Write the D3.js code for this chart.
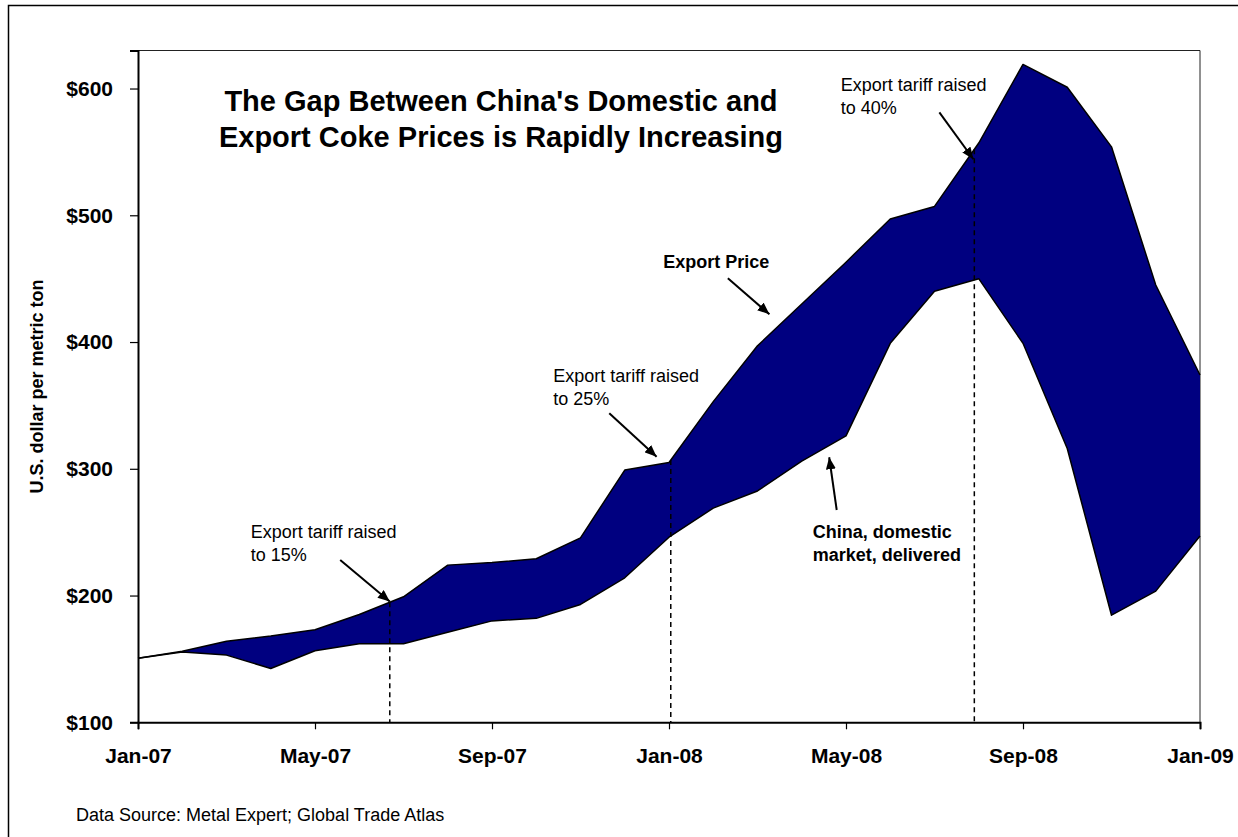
<!DOCTYPE html>
<html>
<head>
<meta charset="utf-8">
<script src="https://cdn.jsdelivr.net/npm/d3@7"></script>
<style>
  html, body { margin: 0; padding: 0; background: #fff; }
  svg { display: block; font-family: "Liberation Sans", Arial, Helvetica, sans-serif; }
</style>
</head>
<body>
<svg id="chart" width="1238" height="837"></svg>
<script>
// ---- data ----
const months = ["Jan-07","Feb-07","Mar-07","Apr-07","May-07","Jun-07","Jul-07","Aug-07","Sep-07","Oct-07","Nov-07","Dec-07",
                "Jan-08","Feb-08","Mar-08","Apr-08","May-08","Jun-08","Jul-08","Aug-08","Sep-08","Oct-08","Nov-08","Dec-08","Jan-09"];
const exportPrice   = [150.5,156,164,168,173,185,199,224,226,229,245.5,299,305,353,397,430,463,497,507,557,619,601,554,445,374];
const domesticPrice = [150.5,155.5,153,142.5,156.5,162,162,171,180,182,193,214,246,269,282.5,306,326,399,440,450,399,316,184.5,203.5,247];
const yTicks = [100,200,300,400,500,600];
const xTickLabels = ["Jan-07","May-07","Sep-07","Jan-08","May-08","Sep-08","Jan-09"];

// tariff events (position in months from Jan-07)
const tariffEvents = [
  {at: 5.69, lines: ["Export tariff raised","to 15%"], text: [2.55, 245.2], from: [4.57, 228.0], to: [5.69, 195.3]},
  {at: 12.04, lines: ["Export tariff raised","to 25%"], text: [9.385, 368.7], from: [10.65, 343.8], to: [11.72, 309.5]},
  {at: 18.9, lines: ["Export tariff raised","to 40%"], text: [15.88, 598.3], from: [18.11, 581.2], to: [18.88, 544.2]}
];
const seriesLabels = [
  {lines: ["Export Price"], text: [11.87, 458.2], from: [13.33, 450.3], to: [14.27, 421.9]},
  {lines: ["China, domestic","market, delivered"], text: [15.25, 245.2], from: [15.79, 267.5], to: [15.62, 309.1]}
];

// ---- layout ----
const svg = d3.select("#chart");
const pLeft = 138, pRight = 1200, pTop = 50.5, pBottom = 722.3;
const x = d3.scaleLinear().domain([0, months.length - 1]).range([pLeft, pRight]);
const y = d3.scaleLinear().domain([100, 630]).range([pBottom, pTop]);

// outer frame
svg.append("rect").attr("x", 8.5).attr("y", 5.5).attr("width", 1240).attr("height", 840)
  .attr("fill", "none").attr("stroke", "#000").attr("stroke-width", 1.5);

// plot frame (top/right)
svg.append("path").attr("d", `M${pLeft},${pTop}H${pRight}V${pBottom}`)
  .attr("fill", "none").attr("stroke", "#222").attr("stroke-width", 1);

const idx = d3.range(months.length);

// area between series
svg.append("path").datum(idx)
  .attr("d", d3.area().x(i => x(i)).y0(i => y(domesticPrice[i])).y1(i => y(exportPrice[i])))
  .attr("fill", "#000080");

const line = arr => d3.line().x(i => x(i)).y(i => y(arr[i]));
[exportPrice, domesticPrice].forEach(arr => {
  svg.append("path").datum(idx).attr("d", line(arr)).attr("fill", "none")
    .attr("stroke", "#000").attr("stroke-width", 1.5).attr("stroke-linejoin", "round");
});

// interpolate export price at fractional index
function interpExport(t) {
  const i0 = Math.floor(t), i1 = Math.min(i0 + 1, exportPrice.length - 1);
  const f = t - i0;
  return exportPrice[i0] * (1 - f) + exportPrice[i1] * f;
}

// dashed tariff lines
tariffEvents.forEach(e => {
  svg.append("line").attr("x1", x(e.at)).attr("x2", x(e.at))
    .attr("y1", y(interpExport(e.at))).attr("y2", pBottom)
    .attr("stroke", "#000").attr("stroke-width", 1.5).attr("stroke-dasharray", "5,4");
});

// axes
const yAxis = svg.append("g").attr("transform", `translate(${pLeft},0)`)
  .call(d3.axisLeft(y).tickValues(yTicks).tickFormat(d => "$" + d).tickSize(8).tickPadding(17));
const xAxis = svg.append("g").attr("transform", `translate(0,${pBottom})`)
  .call(d3.axisBottom(x).tickValues(d3.range(0, months.length, 4))
    .tickFormat((d, i) => xTickLabels[i]).tickSize(7).tickPadding(18.5));
[yAxis, xAxis].forEach(g => {
  g.select(".domain").attr("stroke", "#000").attr("stroke-width", 2);
  g.selectAll(".tick line").attr("stroke", "#000").attr("stroke-width", 1.2);
  g.selectAll("text").attr("font-size", 21).attr("font-weight", "bold")
    .attr("fill", "#000").attr("font-family", "'Liberation Sans', Arial, sans-serif");
});

// arrow marker
svg.append("defs").append("marker").attr("id", "arrow")
  .attr("viewBox", "0 0 12 10").attr("refX", 12).attr("refY", 5)
  .attr("markerWidth", 12).attr("markerHeight", 10).attr("markerUnits", "userSpaceOnUse")
  .attr("orient", "auto")
  .append("path").attr("d", "M0,0L12,5L0,10Z").attr("fill", "#000");

function annotate(a, bold) {
  const t = svg.append("text").attr("x", x(a.text[0])).attr("y", y(a.text[1]))
    .attr("font-size", 18).attr("font-weight", bold ? "bold" : "normal").attr("fill", "#000");
  a.lines.forEach((s, k) => {
    t.append("tspan").attr("x", x(a.text[0])).attr("dy", k === 0 ? 0 : 23).text(s);
  });
  svg.append("line").attr("x1", x(a.from[0])).attr("y1", y(a.from[1]))
    .attr("x2", x(a.to[0])).attr("y2", y(a.to[1]))
    .attr("stroke", "#000").attr("stroke-width", 2).attr("marker-end", "url(#arrow)");
}
tariffEvents.forEach(a => annotate(a, false));
seriesLabels.forEach(a => annotate(a, true));

// title
const title = svg.append("text").attr("x", 501).attr("y", 111).attr("text-anchor", "middle")
  .attr("font-size", 29).attr("font-weight", "bold").attr("fill", "#000");
["The Gap Between China's Domestic and", "Export Coke Prices is Rapidly Increasing"].forEach((s, k) => {
  title.append("tspan").attr("x", 501).attr("dy", k === 0 ? 0 : 36).text(s);
});

// y-axis label
svg.append("text").attr("transform", "translate(43,386.5) rotate(-90)")
  .attr("text-anchor", "middle").attr("font-size", 18).attr("font-weight", "bold")
  .text("U.S. dollar per metric ton");

// source
svg.append("text").attr("x", 76).attr("y", 820.5).attr("font-size", 18)
  .text("Data Source: Metal Expert; Global Trade Atlas");
</script>
</body>
</html>
